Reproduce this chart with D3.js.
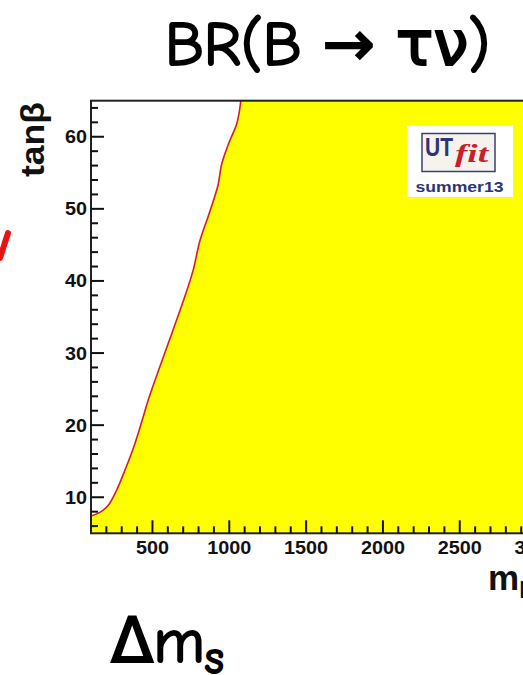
<!DOCTYPE html>
<html>
<head>
<meta charset="utf-8">
<script src="https://cdn.jsdelivr.net/npm/d3@7"></script>
<style>
  html, body { margin: 0; padding: 0; background: #fff; overflow: hidden; }
  svg { display: block; }
</style>
</head>
<body>
<svg id="chart" width="523" height="675"></svg>
<script>
// ---- data ----
const boundaryMass = [100, 157, 211, 265, 320, 385, 439, 471, 548, 634, 710, 765, 808, 873, 927, 949, 993, 1047, 1064, 1075];
const boundaryTanb = [7.4, 7.9, 8.85, 10.9, 13.7, 17.4, 21.1, 23.4, 28.1, 33.2, 37.8, 41.5, 45.5, 49.6, 53.3, 56.1, 58.9, 61.7, 63.3, 65];
const xMajorTicks = [500, 1000, 1500, 2000, 2500, 3000, 3500];
const yMajorTicks = [10, 20, 30, 40, 50, 60];
const xDomain = [100, 3600];
const yDomain = [5, 65];
const titleText = "BR(B \u2192 \u03C4\u03BD)";
const bottomText = "\u0394m";
const bottomSub = "s";
const yTitle = "tan\u03B2";
const xTitle = "m";
const xTitleSub = "H";
const logoMain = "UT";
const logoFit = "fit";
const logoTag = "summer13";

const svg = d3.select("#chart");
const x = d3.scaleLinear().domain(xDomain).range([91, 91 + (xDomain[1] - xDomain[0]) * 0.15365]);
const y = d3.scaleLinear().domain(yDomain).range([533.3, 100.7]);

// title
svg.append("text")
  .attr("x", 165).attr("y", 65)
  .attr("font-family", "'Comic Sans MS','Comic Neue','DejaVu Sans',sans-serif")
  .attr("font-size", 62)
  .attr("fill", "#000").attr("stroke", "#000").attr("stroke-width", 2)
  .attr("textLength", 325).attr("lengthAdjust", "spacingAndGlyphs")
  .text(titleText);

// yellow allowed region
const pts = boundaryMass.map((m, i) => [m, boundaryTanb[i]]);
const poly = pts.concat([[xDomain[1], yDomain[1]], [xDomain[1], yDomain[0]], [xDomain[0], yDomain[0]]]);
const line = d3.line().x(d => x(d[0])).y(d => y(d[1]));
svg.append("path")
  .attr("d", line(poly) + "Z")
  .attr("fill", "#ffff00")
  .attr("stroke", "none");

svg.append("path")
  .attr("d", d3.line().x(d => x(d[0])).y(d => y(d[1])).curve(d3.curveCatmullRom)(pts))
  .attr("fill", "none")
  .attr("stroke", "#d42020")
  .attr("stroke-width", 1.6);

// frame
const x0 = x(xDomain[0]), x1 = x(xDomain[1]), y0 = y(yDomain[0]), y1 = y(yDomain[1]);
svg.append("rect")
  .attr("x", x0).attr("y", y1).attr("width", x1 - x0).attr("height", y0 - y1)
  .attr("fill", "none").attr("stroke", "#222").attr("stroke-width", 2);

// x ticks (inward)
const xMinor = d3.range(200, xDomain[1], 100).filter(v => v % 500 !== 0);
svg.append("g").selectAll("line").data(xMinor).join("line")
  .attr("x1", d => x(d)).attr("x2", d => x(d))
  .attr("y1", y0).attr("y2", y0 - 7)
  .attr("stroke", "#111").attr("stroke-width", 2);
svg.append("g").selectAll("line").data(xMajorTicks).join("line")
  .attr("x1", d => x(d)).attr("x2", d => x(d))
  .attr("y1", y0).attr("y2", y0 - 13)
  .attr("stroke", "#111").attr("stroke-width", 2);
svg.append("g").selectAll("text").data(xMajorTicks.filter(d => x(d) - 22 < 523)).join("text")
  .attr("x", d => x(d)).attr("y", 554)
  .attr("text-anchor", "middle")
  .attr("font-family", "'Liberation Sans',Arial,sans-serif")
  .attr("font-weight", "bold").attr("font-size", 18)
  .attr("textLength", d => String(d).length * 11).attr("lengthAdjust", "spacingAndGlyphs")
  .attr("fill", "#111")
  .text(d => d);

// y ticks (inward)
const yMinor = d3.range(6, yDomain[1], 2).filter(v => v % 10 !== 0);
svg.append("g").selectAll("line").data(yMinor).join("line")
  .attr("x1", x0).attr("x2", x0 + 7)
  .attr("y1", d => y(d)).attr("y2", d => y(d))
  .attr("stroke", "#111").attr("stroke-width", 2);
svg.append("g").selectAll("line").data(yMajorTicks).join("line")
  .attr("x1", x0).attr("x2", x0 + 13)
  .attr("y1", d => y(d)).attr("y2", d => y(d))
  .attr("stroke", "#111").attr("stroke-width", 2);
svg.append("g").selectAll("text").data(yMajorTicks).join("text")
  .attr("x", 87).attr("y", d => y(d) + 6.5)
  .attr("text-anchor", "end")
  .attr("font-family", "'Liberation Sans',Arial,sans-serif")
  .attr("font-weight", "bold").attr("font-size", 18)
  .attr("textLength", d => String(d).length * 11).attr("lengthAdjust", "spacingAndGlyphs")
  .attr("fill", "#111")
  .text(d => d);

// axis titles
svg.append("text")
  .attr("transform", "translate(44,177) rotate(-90)")
  .attr("font-family", "'Liberation Sans',Arial,sans-serif")
  .attr("font-weight", "bold").attr("font-size", 34)
  .attr("textLength", 75).attr("lengthAdjust", "spacingAndGlyphs")
  .attr("fill", "#111")
  .text(yTitle);

const xt = svg.append("text")
  .attr("x", 488).attr("y", 590)
  .attr("font-family", "'Liberation Sans',Arial,sans-serif")
  .attr("font-weight", "bold").attr("font-size", 35)
  .attr("fill", "#111");
xt.append("tspan").text(xTitle);
xt.append("tspan").attr("font-size", 24).attr("dy", 8).text(xTitleSub);

// logo
const logo = svg.append("g");
logo.append("rect").attr("x", 407).attr("y", 125).attr("width", 106).attr("height", 72).attr("fill", "#fff");
logo.append("rect").attr("x", 422).attr("y", 133.5).attr("width", 73).attr("height", 38)
  .attr("fill", "#f6f3ee").attr("stroke", "#3a4070").attr("stroke-width", 1.5);
logo.append("text").attr("x", 425).attr("y", 155.5)
  .attr("font-family", "'Liberation Sans',Arial,sans-serif")
  .attr("font-weight", "bold").attr("font-size", 26).attr("fill", "#2b3575")
  .attr("textLength", 28).attr("lengthAdjust", "spacingAndGlyphs")
  .text(logoMain);
logo.append("text").attr("x", 455).attr("y", 162)
  .attr("font-family", "'Liberation Serif','Times New Roman',serif")
  .attr("font-style", "italic").attr("font-weight", "bold").attr("font-size", 25).attr("fill", "#c8202a")
  .attr("textLength", 33).attr("lengthAdjust", "spacingAndGlyphs")
  .text(logoFit);
logo.append("text").attr("x", 459.5).attr("y", 191.5)
  .attr("text-anchor", "middle")
  .attr("font-family", "'Liberation Sans',Arial,sans-serif")
  .attr("font-weight", "bold").attr("font-size", 15.5).attr("fill", "#2b3575")
  .attr("textLength", 88).attr("lengthAdjust", "spacingAndGlyphs")
  .text(logoTag);

// bottom annotation
const bt = svg.append("text")
  .attr("x", 111).attr("y", 662)
  .attr("font-family", "'Comic Sans MS','Comic Neue','DejaVu Sans',sans-serif")
  .attr("font-size", 62)
  .attr("fill", "#000").attr("stroke", "#000").attr("stroke-width", 2);
bt.append("tspan").text(bottomText);
bt.append("tspan").attr("font-size", 46).attr("dy", 11).text(bottomSub);

// red stroke fragment at left edge
svg.append("path")
  .attr("d", d3.line()([[8, 233], [0, 258]]))
  .attr("stroke", "#ee1111").attr("stroke-width", 6).attr("stroke-linecap", "round").attr("fill", "none");
</script>
</body>
</html>
